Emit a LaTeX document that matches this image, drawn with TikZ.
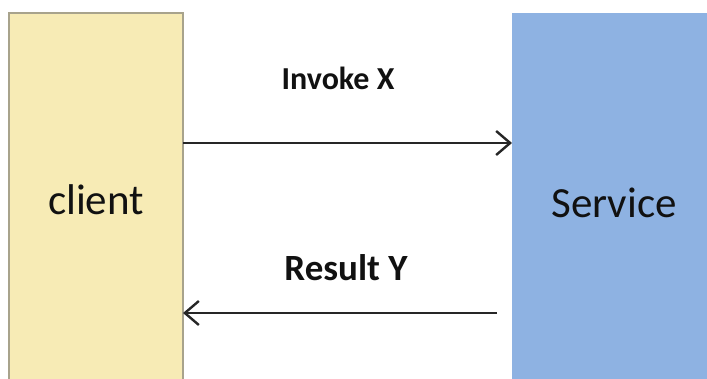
\documentclass[tikz,border=0pt]{standalone}
\usepackage{fontspec}
\setmainfont{Carlito}
\usetikzlibrary{arrows.meta}
\definecolor{clientfill}{HTML}{F7EBB5}
\definecolor{clientline}{HTML}{A8A38C}
\definecolor{servicefill}{HTML}{8EB2E2}
\definecolor{textdark}{HTML}{111111}
\tikzset{
  box/.style={inner sep=0pt, outer sep=0pt, anchor=north west},
  boxlabel/.style={font=\fontsize{43}{45}\selectfont, text=textdark},
  msglabel/.style={font=\bfseries\fontsize{32}{34}\selectfont, text=textdark},
  msg/.style={line width=2.4pt, draw=black!85, -{Straight Barb[length=14pt, width=24pt, line width=2.4pt]}}
}
\begin{document}
\begin{tikzpicture}[x=1pt, y=-1pt]
\useasboundingbox (0,0) rectangle (707,378);
\node[box, fill=clientfill, draw=clientline, line width=2pt, minimum width=174pt, minimum height=372pt] (client) at (9,13) {};
\node[box, fill=servicefill, minimum width=200pt, minimum height=370pt] (service) at (512,13) {};
\node[boxlabel] (clientlbl) at (96,200) {client};
\node[boxlabel] (servicelbl) at (614,203) {Service};
\coordinate (a1s) at (client.east |- 0,143);
\coordinate (a1e) at (service.west |- 0,143);
\coordinate (a2s) at (497,313);
\coordinate (a2e) at (client.east |- 0,313);
\draw[msg] (a1s) -- (a1e);
\draw[msg] (a2s) -- (a2e);
\node[msglabel] (invoke) at (338,78) {Invoke X};
\node[msglabel, font=\bfseries\fontsize{37}{39}\selectfont] (result) at (346,268) {Result Y};
\end{tikzpicture}
\end{document}
